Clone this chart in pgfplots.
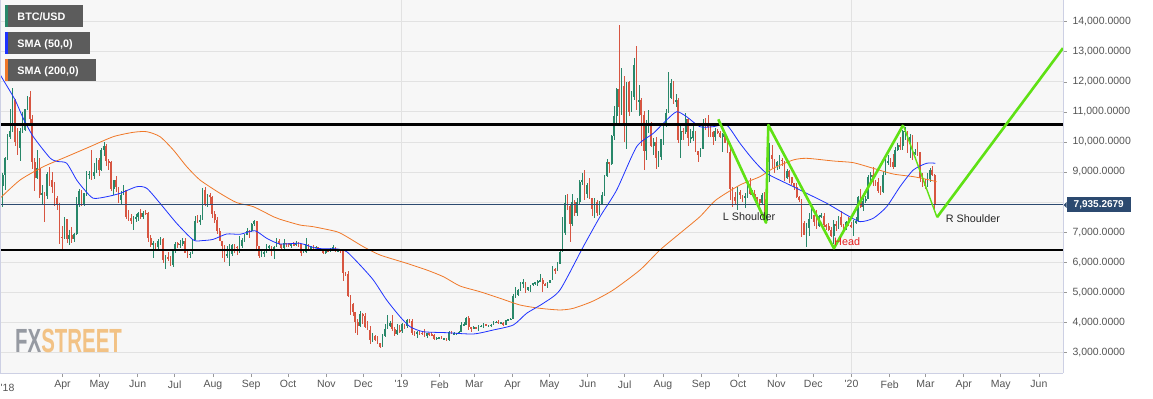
\documentclass[border=0pt]{standalone}
\usepackage{pgfplots}
\pgfplotsset{compat=1.18}
\usepackage{pgfplotstable}
\usepackage{fontspec}
\setmainfont{Liberation Sans}
\definecolor{upc}{RGB}{40,135,105}
\definecolor{dnc}{RGB}{215,85,65}
\definecolor{bgc}{RGB}{247,247,247}
\definecolor{gridc}{RGB}{226,226,226}
\definecolor{sma50}{RGB}{30,50,255}
\definecolor{sma200}{RGB}{240,120,40}
\definecolor{lime}{RGB}{95,225,20}
\definecolor{navy}{RGB}{44,74,112}
\definecolor{labc}{RGB}{85,85,85}
\definecolor{boxc}{RGB}{92,92,92}
\definecolor{fxg}{RGB}{150,154,162}
\definecolor{fxo}{RGB}{242,194,133}
\definecolor{framec}{RGB}{205,208,228}

\pgfplotstableread{
x o h l c
39.5 8270 8740 8160 8530
41.5 8530 8950 7850 8890
43.5 8890 9500 8400 9480
45.5 9480 10250 9400 10170
47.5 10170 11100 10100 10380
49.5 10380 11790 10330 11400
51.5 11400 11420 9850 10000
53.5 10000 10470 9580 9810
55.5 9810 10450 9350 10370
57.5 10370 11000 10300 10400
59.5 10400 11100 10380 11080
61.5 11080 11540 11050 11510
63.5 11510 11690 10570 10760
65.5 10760 10900 9100 9330
67.5 9330 9480 8380 8790
69.5 8790 9740 8760 9140
71.5 9140 9480 8120 8220
73.5 8220 8570 7920 8310
75.5 8310 8340 7320 8200
77.5 8200 9000 8100 8920
79.5 8920 9170 8530 8720
81.5 8720 8990 8300 8500
83.5 8500 8660 7880 8150
85.5 8150 8210 7740 7950
87.5 7950 7970 6600 6850
89.5 6850 7200 6430 6810
91.5 6810 7510 6770 7420
93.5 7420 7420 6640 6780
95.5 6780 7070 6580 6910
97.5 6910 7180 6650 6770
99.5 6770 6960 6660 6940
101.5 6940 8170 6900 7890
103.5 7890 8420 7830 8360
105.5 8360 8410 7880 7890
107.5 7890 8300 7880 8290
109.5 8290 9030 8200 8920
111.5 8920 9030 8760 8940
113.5 8940 9740 8750 8860
115.5 8860 9310 8770 8990
117.5 8990 9480 8960 9390
119.5 9390 9470 8880 9070
121.5 9070 9790 9040 9740
123.5 9740 9990 9540 9860
125.5 9860 9940 9200 9370
127.5 9370 9440 9060 9320
129.5 9320 9370 8370 8430
131.5 8430 8750 8240 8720
133.5 8720 8880 8330 8490
135.5 8490 8500 7970 8060
137.5 8060 8360 7950 8250
139.5 8250 8560 8230 8400
141.5 8400 8400 7430 7510
143.5 7510 7720 7360 7480
145.5 7480 7610 7280 7370
147.5 7370 7520 7080 7470
149.5 7470 7590 7350 7490
151.5 7490 7680 7380 7640
153.5 7640 7760 7450 7510
155.5 7510 7700 7420 7650
157.5 7650 7750 7560 7620
159.5 7620 7680 6660 6790
161.5 6790 6910 6500 6580
163.5 6580 6720 6130 6640
165.5 6640 6650 6360 6500
167.5 6500 6780 6420 6710
169.5 6710 6830 6570 6760
171.5 6760 6790 5970 6060
173.5 6060 6250 5780 6170
175.5 6170 6340 6040 6090
177.5 6090 6190 5860 5900
179.5 5900 6440 5830 6390
181.5 6390 6670 6300 6620
183.5 6620 6680 6480 6600
185.5 6600 6740 6470 6600
187.5 6600 6800 6550 6720
189.5 6720 6800 6290 6300
191.5 6300 6400 6140 6250
193.5 6250 6340 6150 6270
195.5 6270 6770 6260 6740
197.5 6740 7540 6730 7370
199.5 7370 7570 7290 7330
201.5 7330 7560 7250 7400
203.5 7400 8480 7390 8400
205.5 8400 8490 7880 7930
207.5 7930 8280 7830 8230
209.5 8230 8290 7900 8180
211.5 8180 8190 7460 7600
213.5 7600 7700 7300 7410
215.5 7410 7490 6930 7030
217.5 7030 7150 6700 6720
219.5 6720 6720 6130 6540
221.5 6540 6570 6010 6240
223.5 6240 6530 6150 6250
225.5 6250 6620 5880 6270
227.5 6270 6590 6220 6580
229.5 6580 6620 6290 6500
231.5 6500 6540 6250 6480
233.5 6480 6880 6290 6530
235.5 6530 6800 6470 6740
237.5 6740 6940 6660 6920
239.5 6920 7130 6890 7040
241.5 7040 7070 6810 7030
243.5 7030 7300 7000 7270
245.5 7270 7400 7220 7370
247.5 7370 7380 6440 6530
249.5 6530 6540 6150 6200
251.5 6200 6430 6170 6300
253.5 6300 6400 6170 6330
255.5 6330 6600 6320 6510
257.5 6510 6580 6440 6530
259.5 6530 6540 6220 6360
261.5 6360 6530 6120 6510
263.5 6510 6790 6500 6720
265.5 6720 6760 6570 6590
267.5 6590 6600 6360 6460
269.5 6460 6770 6440 6640
271.5 6640 6650 6500 6630
273.5 6630 6650 6500 6580
275.5 6580 6620 6470 6590
277.5 6590 6660 6550 6570
279.5 6570 6710 6540 6650
281.5 6650 6660 6500 6590
283.5 6590 6590 6210 6320
285.5 6320 6360 6300 6340
287.5 6340 6800 6320 6590
289.5 6590 6600 6430 6470
291.5 6470 6530 6400 6490
293.5 6490 6560 6450 6480
295.5 6480 6550 6460 6500
297.5 6500 6510 6400 6420
299.5 6420 6450 6390 6410
301.5 6410 6420 6270 6300
303.5 6300 6400 6280 6380
305.5 6380 6440 6330 6370
307.5 6370 6480 6350 6420
309.5 6420 6560 6400 6500
311.5 6500 6510 6330 6350
313.5 6350 6420 6340 6410
315.5 6410 6440 6310 6370
317.5 6370 6400 5360 5650
319.5 5650 5680 5530 5590
321.5 5590 5720 4830 4870
323.5 4870 4900 4250 4600
325.5 4600 4630 4220 4330
327.5 4330 4350 3650 4010
329.5 4010 4100 3580 3860
331.5 3860 4380 3850 4280
333.5 4280 4320 3930 4210
335.5 4210 4300 3820 3840
337.5 3840 4050 3740 3760
339.5 3760 3860 3280 3420
341.5 3420 3640 3360 3560
343.5 3560 3580 3390 3420
345.5 3420 3530 3280 3300
347.5 3300 3310 3130 3190
349.5 3190 3600 3190 3550
351.5 3550 3940 3520 3780
353.5 3780 4250 3780 3860
355.5 3860 4040 3840 3980
357.5 3980 4240 3700 3770
359.5 3770 3850 3560 3600
361.5 3600 3940 3590 3740
363.5 3740 3900 3660 3700
365.5 3700 3990 3650 3940
367.5 3940 3950 3780 3870
369.5 3870 4100 3820 4080
371.5 4080 4110 3990 4040
373.5 4040 4110 3580 3650
375.5 3650 3700 3560 3610
377.5 3610 3710 3470 3680
379.5 3680 3720 3580 3640
381.5 3640 3700 3590 3630
383.5 3630 3790 3520 3560
385.5 3560 3650 3480 3630
387.5 3630 3650 3550 3600
389.5 3600 3670 3560 3580
391.5 3580 3610 3410 3450
393.5 3450 3500 3400 3480
395.5 3480 3520 3440 3480
397.5 3480 3530 3430 3450
399.5 3450 3480 3420 3470
401.5 3470 3480 3390 3400
403.5 3400 3720 3390 3670
405.5 3670 3700 3610 3620
407.5 3620 3680 3590 3620
409.5 3620 3650 3580 3620
411.5 3620 3700 3600 3690
413.5 3690 4010 3680 3910
415.5 3910 4000 3880 3920
417.5 3920 4170 3910 4140
419.5 4140 4200 3740 3830
421.5 3830 3850 3680 3820
423.5 3820 3880 3780 3830
425.5 3830 3850 3780 3800
427.5 3800 3900 3700 3860
429.5 3860 3900 3830 3880
431.5 3880 3970 3810 3940
433.5 3940 3950 3860 3870
435.5 3870 3900 3850 3880
437.5 3880 3930 3840 3920
439.5 3920 4050 3910 3990
441.5 3990 4040 3960 4020
443.5 4020 4070 3950 3970
445.5 3970 4000 3960 3990
447.5 3990 4000 3880 3910
449.5 3910 4090 3900 4080
451.5 4080 4120 4040 4100
453.5 4100 4140 4080 4110
455.5 4110 4940 4100 4880
457.5 4880 5180 4810 4900
459.5 4900 5110 4880 5060
461.5 5060 5350 5050 5290
463.5 5290 5440 5150 5330
465.5 5330 5330 4970 5080
467.5 5080 5180 5040 5160
469.5 5160 5240 5010 5230
471.5 5230 5320 5210 5300
473.5 5300 5350 5230 5320
475.5 5320 5410 5220 5380
477.5 5380 5620 5370 5400
479.5 5400 5480 5000 5260
481.5 5260 5300 5210 5240
483.5 5240 5340 5150 5320
485.5 5320 5420 5310 5410
487.5 5410 5860 5400 5760
489.5 5760 5800 5600 5690
491.5 5690 5990 5690 5950
493.5 5950 6400 5940 6350
495.5 6350 7500 6330 6970
497.5 6970 8230 6900 7980
499.5 7980 8280 7720 7880
501.5 7880 7930 6660 7260
503.5 7260 8260 7200 7990
505.5 7990 8080 7540 7620
507.5 7620 8140 7530 7990
509.5 7990 8720 7950 8670
511.5 8670 8950 8560 8720
513.5 8720 9070 8070 8270
515.5 8270 8620 8120 8560
517.5 8560 8800 8100 8120
519.5 8120 8120 7520 7780
521.5 7780 8120 7480 8000
523.5 8000 8060 7540 7630
525.5 7630 8050 7560 7920
527.5 7920 8330 7890 8230
529.5 8230 8890 8200 8860
531.5 8860 9440 8830 9330
533.5 9330 9330 8980 9270
535.5 9270 10240 9230 10210
537.5 10210 11200 10080 10860
539.5 10860 11790 10600 11750
541.5 11750 13880 10530 11160
543.5 11160 12450 10900 11860
545.5 11860 12180 10000 10580
547.5 10580 12000 9760 11980
549.5 11980 12030 10850 10980
551.5 10980 11700 10980 11480
553.5 11480 12800 11380 12570
555.5 12570 13200 11050 11350
557.5 11350 11900 10850 11390
559.5 11390 11460 9860 10900
561.5 10900 11020 9070 9690
563.5 9690 10740 9390 10530
565.5 10530 11050 10300 10590
567.5 10590 10650 9830 9870
569.5 9870 10140 9550 9990
571.5 9990 10180 9110 9480
573.5 9480 9700 9170 9500
575.5 9500 10110 9400 10090
577.5 10090 10640 9900 10520
579.5 10520 11080 10500 10970
581.5 10970 12320 10970 11460
583.5 11460 12100 11440 11970
585.5 11970 12040 11260 11370
587.5 11370 11600 11150 11380
589.5 11380 11450 9980 10050
591.5 10050 10630 9470 10360
593.5 10360 10470 10060 10340
595.5 10340 10950 10260 10760
597.5 10760 10790 9850 10130
599.5 10130 10420 9960 10140
601.5 10140 10620 10030 10370
603.5 10370 10380 9670 9690
605.5 9690 9690 9330 9580
607.5 9580 9800 9510 9760
609.5 9760 10750 9750 10620
611.5 10620 10800 10400 10580
613.5 10580 10900 10150 10500
615.5 10500 10590 10180 10330
617.5 10330 10360 9900 10160
619.5 10160 10450 10040 10360
621.5 10360 10420 10270 10310
623.5 10310 10360 10130 10180
625.5 10180 10300 9660 10270
627.5 10270 10290 9950 9980
629.5 9980 10070 9640 9680
631.5 9680 9800 8060 8430
633.5 8430 8500 7830 8180
635.5 8180 8320 7910 8040
637.5 8040 8500 7730 8340
639.5 8340 8390 8100 8230
641.5 8230 8230 8010 8150
643.5 8150 8290 7790 8200
645.5 8200 8640 8150 8590
647.5 8590 8790 8220 8260
649.5 8260 8410 8210 8280
651.5 8280 8390 8110 8160
653.5 8160 8180 7930 8090
655.5 8090 8110 7860 7960
657.5 7960 8300 7900 8240
659.5 8240 8330 7370 7470
661.5 7470 8800 7370 8660
663.5 8660 9950 8660 9550
665.5 9550 9900 9130 9430
667.5 9430 9440 8970 9200
669.5 9200 9380 9060 9320
671.5 9320 9550 9100 9410
673.5 9410 9480 9200 9360
675.5 9360 9380 8710 8800
677.5 8800 9110 8780 9040
679.5 9040 9080 8630 8820
681.5 8820 8830 8580 8640
683.5 8640 8650 8400 8490
685.5 8490 8620 8120 8180
687.5 8180 8190 8010 8080
689.5 8080 8100 6850 7290
691.5 7290 7380 6900 6910
693.5 6910 7300 6500 7150
695.5 7150 7650 6860 7430
697.5 7430 7860 7430 7570
699.5 7570 7570 7210 7320
701.5 7320 7750 7100 7200
703.5 7200 7560 7170 7540
705.5 7540 7620 7470 7540
707.5 7540 7620 7170 7230
709.5 7230 7260 7080 7190
711.5 7190 7310 7030 7070
713.5 7070 7170 6840 6880
715.5 6880 7400 6600 7280
717.5 7280 7370 7040 7190
719.5 7190 7520 7120 7510
721.5 7510 7690 7170 7250
723.5 7250 7270 7110 7200
725.5 7200 7360 7080 7320
727.5 7320 7510 7210 7220
729.5 7220 7330 7150 7200
731.5 7200 7400 6870 7340
733.5 7340 7490 7280 7360
735.5 7360 8210 7350 8160
737.5 8160 8420 7790 7820
739.5 7820 8280 7690 8020
741.5 8020 8200 7970 8110
743.5 8110 8890 8100 8820
745.5 8820 9000 8620 8900
747.5 8900 9160 8530 8710
749.5 8710 8720 8520 8660
751.5 8660 8790 8310 8380
753.5 8380 8520 8240 8330
755.5 8330 9000 8310 8910
757.5 8910 9430 8890 9290
759.5 9290 9570 9230 9350
761.5 9350 9460 9170 9340
763.5 9340 9590 9100 9180
765.5 9180 9820 9170 9730
767.5 9730 9950 9690 9900
769.5 9900 10170 9730 9860
771.5 9860 10400 9730 10350
773.5 10350 10500 10080 10360
775.5 10360 10380 9620 9930
777.5 9930 10250 9480 10170
779.5 10170 10240 9400 9600
781.5 9600 9760 9570 9670
783.5 9670 10000 9540 9660
785.5 9660 9660 8680 8790
787.5 8790 8970 8510 8670
789.5 8670 8770 8420 8530
791.5 8530 8970 8500 8760
793.5 8760 9130 8680 9080
795.5 9080 9190 8880 8900
797.5 8900 8920 7700 7935
}\btc

\begin{document}
\begin{tikzpicture}
\fill[white] (0bp,-26bp) rectangle (1153bp,373bp);
\path[use as bounding box] (0bp,-26bp) rectangle (1153bp,373bp);
\begin{axis}[
  at={(0bp,0bp)}, anchor=south west,
  scale only axis, width=1063bp, height=373bp,
  xmin=39.3, xmax=901.5, ymin=2313, ymax=14722,
  axis background/.style={fill=bgc},
  axis line style={draw=none},
  ytick={3000,4000,5000,6000,7000,9000,10000,11000,12000,13000,14000},
  extra y ticks={8000}, extra y tick labels={}, extra y tick style={major tick length=0pt},
  scaled y ticks=false,
  ymajorgrids, grid style={gridc, line width=0.8bp},
  ytick pos=right, xtick pos=left,
  tick align=outside, major tick length=4bp,
  tick style={labc!60, line width=0.6bp},
  /pgf/number format/assume math mode=true,
  yticklabel={\pgfmathprintnumber[fixed,fixed zerofill,precision=4,1000 sep={,}]{\tick}},
  yticklabel style={font=\fontsize{10.5bp}{12bp}\selectfont, text=labc, anchor=west, xshift=2bp},
  xtick={90,120,151,181,212,243,273,304,334,365,396,424,455,485,516,546,577,608,638,669,699,730,761,790,821,851,882},
  xticklabels={Apr,May,Jun,Jul,Aug,Sep,Oct,Nov,Dec,{\textquotesingle}19,Feb,Mar,Apr,May,Jun,Jul,Aug,Sep,Oct,Nov,Dec,{\textquotesingle}20,Feb,Mar,Apr,May,Jun},
  xticklabel style={font=\fontsize{10.5bp}{12bp}\selectfont, text=labc},
  unbounded coords=discard,
]
\addplot[gridc, line width=0.8bp, forget plot] coordinates {(365,2313) (365,14722)};
\addplot[gridc, line width=0.8bp, forget plot] coordinates {(730,2313) (730,14722)};
% wicks
\addplot[draw=none, mark=none, forget plot,
  error bars/.cd, y dir=both, y explicit, error mark=none,
  error bar style={draw=upc, solid, line width=0.6bp}]
  table[x expr={\thisrow{c}>=\thisrow{o} ? \thisrow{x} : nan}, y expr={(\thisrow{h}+\thisrow{l})/2}, y error expr={(\thisrow{h}-\thisrow{l})/2}] {\btc};
\addplot[draw=none, mark=none, forget plot,
  error bars/.cd, y dir=both, y explicit, error mark=none,
  error bar style={draw=dnc, solid, line width=0.6bp}]
  table[x expr={\thisrow{c}<\thisrow{o} ? \thisrow{x} : nan}, y expr={(\thisrow{h}+\thisrow{l})/2}, y error expr={(\thisrow{h}-\thisrow{l})/2}] {\btc};
% bodies
\addplot[draw=none, mark=none, forget plot,
  error bars/.cd, y dir=both, y explicit, error mark=none,
  error bar style={draw=upc, solid, line width=1.7bp}]
  table[x expr={\thisrow{c}>=\thisrow{o} ? \thisrow{x} : nan}, y expr={(\thisrow{o}+\thisrow{c})/2}, y error expr={max(abs(\thisrow{c}-\thisrow{o})/2,15)}] {\btc};
\addplot[draw=none, mark=none, forget plot,
  error bars/.cd, y dir=both, y explicit, error mark=none,
  error bar style={draw=dnc, solid, line width=1.7bp}]
  table[x expr={\thisrow{c}<\thisrow{o} ? \thisrow{x} : nan}, y expr={(\thisrow{o}+\thisrow{c})/2}, y error expr={max(abs(\thisrow{c}-\thisrow{o})/2,15)}] {\btc};
% SMA 200
\addplot[sma200, line width=0.8bp, smooth, tension=0.4] coordinates {
(39.3,8125) (55.6,8734) (74.5,9177) (93.4,9510) (112.3,9842) (131.2,10175) (147.4,10320) (158.3,10341) (169.1,10175) (179.9,9732) (190.8,9177) (201.5,8734) (217.8,8290) (231.3,7981) (244.8,7846) (261,7513) (266.4,7427) (282.6,7236) (293.4,7180) (312.4,7015) (320.5,6848) (334,6515) (347.5,6239) (369.2,5962) (385.4,5740) (398.9,5517) (412.4,5208) (428.6,5018) (444.9,4798) (461.1,4575) (477.3,4465) (493.5,4410) (504.3,4465) (520,4700) (536.7,5075) (558.4,5740) (574.6,6405) (590.8,6960) (607,7513) (620,8068) (639.5,8567) (655.7,8845) (666.5,9122) (682.7,9400) (693.6,9455) (715.2,9366) (731.4,9310) (747.6,9122) (763.8,8933) (780.1,8845) (790.9,8756) (799,8677)};
% SMA 50
\addplot[sma50, line width=0.8bp, smooth, tension=0.4] coordinates {
(39.3,12250) (42,12060) (51.5,11400) (58.2,10780) (66.3,10175) (79.9,9466) (86,9350) (93.4,9290) (101.5,8734) (108,8400) (115,8125) (125.9,8178) (136.7,8290) (150.2,8510) (158.3,8458) (169.1,7960) (182.6,7293) (196.1,6738) (204,6720) (212.3,6760) (223.2,6937) (234,6928) (246,7046) (255.6,6795) (266.4,6605) (282.6,6627) (296.2,6460) (312.4,6440) (320.5,6349) (331.3,5907) (342.1,5407) (352.9,4742) (363.8,4186) (371.9,3853) (382.7,3687) (401.6,3654) (423.2,3611) (439.4,3744) (455.6,3910) (466.5,4300) (480,4633) (493.5,5075) (512.4,6515) (526,7513) (539.5,8401) (555.7,9842) (569.2,10287) (580,10730) (588.2,11006) (596.2,10840) (607,10507) (617.8,10507) (628.7,10563) (639.5,9955) (650.3,9400) (661.1,8956) (680,8567) (693.6,8290) (709.8,7960) (726,7570) (736.8,7348) (747.6,7460) (758.5,7846) (769.3,8510) (780.1,9067) (790.9,9290) (798,9290)};
% horizontal levels
\addplot[navy, line width=0.9bp] coordinates {(39.3,7935.2679) (901.5,7935.2679)};
\addplot[black, line width=2.3bp] coordinates {(39.3,10575) (901.5,10575)};
\addplot[black, line width=2.3bp] coordinates {(39.3,6410) (901.5,6410)};
% pattern
\addplot[lime, line width=2.6bp, line join=round] coordinates {(621.9,10753) (660.6,7313) (662.5,10563) (715.7,6462) (771.9,10563)};
\addplot[lime, line width=1.4bp] coordinates {(771.9,10563) (799.3,7493)};
\addplot[lime, line width=2.6bp, line join=round] coordinates {(799.3,7493) (901.5,13120)};
\end{axis}
% frame lines
\draw[framec, line width=0.8bp] (0.6bp,0bp) -- (0.6bp,373bp);
\draw[framec, line width=0.8bp] (1063bp,0bp) -- (1063bp,373bp);
\draw[framec, line width=0.8bp] (0bp,0bp) -- (1063bp,0bp);
% '18 label
\node[anchor=base west, inner sep=0pt, text=labc, font=\fontsize{10.5bp}{12bp}\selectfont] at (0.5bp,-18.8bp) {\textquotesingle18};
% annotations
\node[anchor=base west, inner sep=0pt, font=\fontsize{10.8bp}{12bp}\selectfont, text=black!85] at (722.7bp,152.3bp) {L Shoulder};
\node[anchor=base west, inner sep=0pt, font=\fontsize{10.8bp}{12bp}\selectfont, text={rgb,255:red,230;green,30;blue,30}] at (834bp,127.3bp) {Head};
\node[anchor=base west, inner sep=0pt, font=\fontsize{10.8bp}{12bp}\selectfont, text=black!85] at (945.7bp,150.3bp) {R Shoulder};
% legend boxes
\fill[boxc] (5bp,346.3bp) rectangle (82.7bp,368bp);
\fill[upc] (5bp,346.3bp) rectangle (7.7bp,368bp);
\node[anchor=base west, inner sep=0pt, text=white, font=\fontsize{10.8bp}{12bp}\selectfont\bfseries] at (17.3bp,352.3bp) {BTC/USD};
\fill[boxc] (5bp,319.3bp) rectangle (90bp,340.7bp);
\fill[sma50] (5bp,319.3bp) rectangle (7.7bp,340.7bp);
\node[anchor=base west, inner sep=0pt, text=white, font=\fontsize{10.8bp}{12bp}\selectfont\bfseries] at (17.3bp,325.3bp) {SMA (50,0)};
\fill[boxc] (5bp,292bp) rectangle (96bp,313.7bp);
\fill[sma200] (5bp,292bp) rectangle (7.7bp,313.7bp);
\node[anchor=base west, inner sep=0pt, text=white, font=\fontsize{10.8bp}{12bp}\selectfont\bfseries] at (17.3bp,298bp) {SMA (200,0)};
% price tag
\fill[navy] (1063.5bp,168bp) -- (1066.5bp,171bp) -- (1066.5bp,165bp) -- cycle;
\fill[navy] (1066.5bp,160.5bp) rectangle (1131bp,175.5bp);
\node[anchor=center, inner sep=0pt, text=white, font=\fontsize{10bp}{12bp}\selectfont\bfseries] at (1098.75bp,168bp) {7,935.2679};
% logo
\node[anchor=base west, inner sep=0pt] at (15bp,20.3bp) {\scalebox{0.61}[1]{\fontsize{33.5bp}{34bp}\selectfont\bfseries\textcolor{fxg}{FX}\textcolor{fxo}{STREET}}};
\end{tikzpicture}
\end{document}
